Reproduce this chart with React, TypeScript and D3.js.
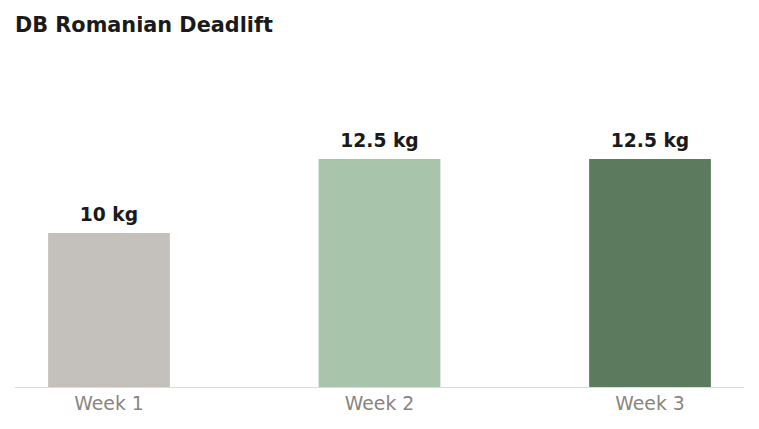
import React, { useEffect, useRef } from "react";
import * as d3 from "d3";

const weeks = ["Week 1", "Week 2", "Week 3"];
const weights = [10, 12.5, 12.5];
const barColors = ["#c4c0bb", "#a8c4aa", "#5c7a5e"];
const unit = "kg";

const W = 759;
const H = 429;

const App: React.FC = () => {
  const svgRef = useRef<SVGSVGElement | null>(null);
  const margin = { top: 60, right: 15, bottom: 42, left: 15 };

  useEffect(() => {
    const svgEl = svgRef.current;
    if (!svgEl) return;
    const svg = d3.select(svgEl);
    svg.selectAll("*").remove();
    svg.style("background-color", "white");

    const font = "'DejaVu Sans', sans-serif";
    const baseY = H - margin.bottom;

    svg
      .append("text")
      .attr("x", 15)
      .attr("y", 32)
      .attr("font-family", font)
      .attr("font-size", 20.8)
      .attr("font-weight", "bold")
      .attr("fill", "#1a1a1a")
      .text("DB Romanian Deadlift");

    const x = d3
      .scaleBand<string>()
      .domain(weeks)
      .range([margin.left, W - margin.right])
      .paddingInner(0.55)
      .paddingOuter(0.1225);

    // baseline is not zero in the original
    const y = d3.scaleLinear().domain([4.8, 12.5]).range([baseY, 159]);

    const rows = weeks.map((w, i) => ({ w, v: weights[i], c: barColors[i] }));

    svg
      .selectAll(".bar")
      .data(rows)
      .enter()
      .append("rect")
      .attr("class", "bar")
      .attr("x", (d) => x(d.w)!)
      .attr("width", x.bandwidth())
      .attr("y", (d) => y(d.v))
      .attr("height", (d) => baseY - y(d.v))
      .attr("fill", (d) => d.c);

    svg
      .selectAll(".val")
      .data(rows)
      .enter()
      .append("text")
      .attr("class", "val")
      .attr("x", (d) => x(d.w)! + x.bandwidth() / 2)
      .attr("y", (d) => y(d.v) - 12)
      .attr("text-anchor", "middle")
      .attr("font-family", font)
      .attr("font-size", 18.7)
      .attr("font-weight", "bold")
      .attr("fill", "#1a1a1a")
      .text((d) => `${d.v} ${unit}`);

    svg
      .append("line")
      .attr("x1", margin.left)
      .attr("x2", W - margin.right)
      .attr("y1", baseY + 0.5)
      .attr("y2", baseY + 0.5)
      .attr("stroke", "#dddbd8")
      .attr("stroke-width", 1);

    svg
      .selectAll(".wk")
      .data(weeks)
      .enter()
      .append("text")
      .attr("class", "wk")
      .attr("x", (d) => x(d)! + x.bandwidth() / 2)
      .attr("y", baseY + 23)
      .attr("text-anchor", "middle")
      .attr("font-family", font)
      .attr("font-size", 18.8)
      .attr("fill", "#8a847e")
      .text((d) => d);
  }, []);

  return (
    <div style={{ position: "fixed", left: 0, top: 0 }}>
      <svg ref={svgRef} width={W} height={H} style={{ display: "block" }}></svg>
    </div>
  );
};

export default App;
